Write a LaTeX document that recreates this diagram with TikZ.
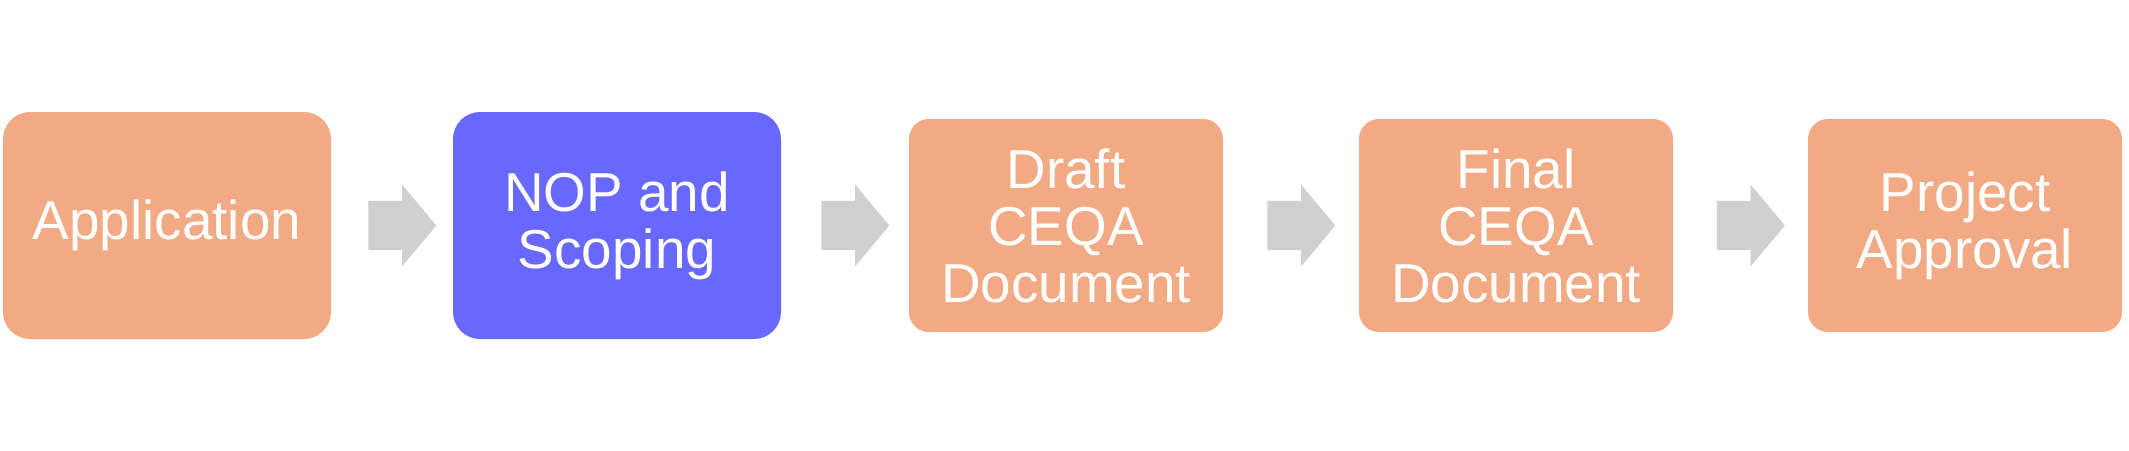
\documentclass[tikz,border=0pt]{standalone}
\usepackage{fontspec}
\setmainfont{Liberation Sans}
\usetikzlibrary{calc}
\usetikzlibrary{shapes.arrows}
\definecolor{custom-orange}{RGB}{241, 170, 132}
\definecolor{custom-blue}{RGB}{104, 104, 255}
\definecolor{custom-gray}{RGB}{208, 208, 208}
\newcommand{\stagefont}{\fontsize{15.6}{16.2}\selectfont}

\begin{document}
\begin{tikzpicture}[
    stage/.style={fill=custom-orange, rounded corners=0.2cm, minimum width=3.14cm, minimum height=2.13cm,
        inner sep=0pt, text=white, align=center, font=\stagefont},
    bigstage/.style={stage, rounded corners=0.27cm, minimum width=3.28cm, minimum height=2.27cm},
    flow/.style={single arrow, fill=custom-gray, inner xsep=0pt, inner ysep=0.24cm, minimum width=0.8cm,
        minimum height=0.68cm, single arrow head extend=0.16cm, single arrow tip angle=100}]
\useasboundingbox (0,0) rectangle (21.29,-4.5);

\node[bigstage] (app) at (1.67,-2.255) {Application};
\node[bigstage, fill=custom-blue] (nop) at (6.17,-2.255) {NOP and\\Scoping};
\node[stage] (draft) at (10.66,-2.255) {Draft\\CEQA\\Document};
\node[stage] (final) at (15.16,-2.255) {Final\\CEQA\\Document};
\node[stage] (approval) at (19.65,-2.255) {Project\\Approval};

\node[flow] (a1) at ($(app.east)!0.5!(nop.west)$) {};
\node[flow] (a2) at ($(nop.east)!0.5!(draft.west)$) {};
\node[flow] (a3) at ($(draft.east)!0.5!(final.west)$) {};
\node[flow] (a4) at ($(final.east)!0.5!(approval.west)$) {};

\end{tikzpicture}
\end{document}
